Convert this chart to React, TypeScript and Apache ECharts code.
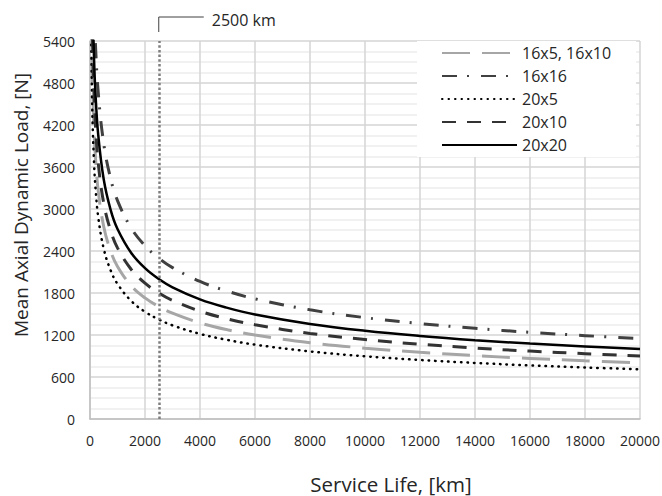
import React, { useEffect, useRef } from "react";
import * as echarts from "echarts";

// Service life [km]
const distances = [20, 30, 40, 50, 75, 100, 150, 200, 300, 500, 750, 1000, 1500, 2000, 2500, 3000, 4000, 5000, 6000, 8000, 10000, 12000, 14000, 16000, 18000, 20000];
// Mean axial dynamic load [N]
const load16x5 = [8031, 7016, 6374, 5917, 5169, 4697, 4103, 3728, 3256, 2747, 2399, 2180, 1904, 1730, 1606, 1512, 1373, 1275, 1200, 1090, 1012, 952, 905, 865, 832, 803];
const load16x16 = [11494, 10041, 9123, 8469, 7398, 6722, 5872, 5335, 4661, 3931, 3434, 3120, 2726, 2476, 2299, 2163, 1965, 1825, 1717, 1560, 1448, 1363, 1295, 1238, 1191, 1149];
const load20x5 = [7110, 6211, 5643, 5239, 4577, 4158, 3632, 3300, 2883, 2432, 2124, 1930, 1686, 1532, 1422, 1338, 1216, 1129, 1062, 965, 896, 843, 801, 766, 736, 711];
const load20x10 = [9007, 7869, 7149, 6637, 5798, 5268, 4602, 4181, 3652, 3081, 2691, 2445, 2136, 1941, 1801, 1695, 1540, 1430, 1346, 1223, 1135, 1068, 1014, 970, 933, 901];
const load20x20 = [10002, 8738, 7939, 7370, 6438, 5849, 5110, 4643, 4056, 3421, 2988, 2715, 2372, 2155, 2000, 1882, 1710, 1588, 1494, 1358, 1260, 1186, 1126, 1077, 1036, 1000];

const seriesNames = ["16x5, 16x10", "16x16", "20x5", "20x10", "20x20"];
const markerDistance = 2500;
const markerLabel = "2500 km";

const FONT = "'Open Sans', sans-serif";

const toPairs = (arr: number[]) => distances.map((d, i) => [d, arr[i]]);

export default function App() {
  const ref = useRef<HTMLDivElement>(null);

  useEffect(() => {
    if (!ref.current) return;
    const chart = echarts.init(ref.current, undefined, { renderer: "svg" });
    const common = {
      type: "line",
      symbol: "none",
      showSymbol: false,
      smooth: 0.4,
      clip: true,
    };
    chart.setOption({
      animation: false,
      backgroundColor: "#fff",
      textStyle: { fontFamily: FONT },
      grid: { left: 90, right: 22, top: 41, bottom: 77, containLabel: false, outerBoundsMode: "none" },
      xAxis: {
        type: "value",
        min: 0,
        max: 20000,
        interval: 2000,
        name: "Service Life, [km]",
        nameLocation: "middle",
        nameGap: 54,
        nameTextStyle: { fontSize: 20.5, color: "#262626", fontFamily: FONT, padding: [0, 0, 0, 52] },
        axisLine: { show: true, lineStyle: { color: "#bfbfbf", width: 1.5 } },
        axisTick: { show: false },
        axisLabel: { fontSize: 14, color: "#262626", margin: 14, fontFamily: FONT, formatter: (v: number) => String(v) },
        splitLine: { show: true, lineStyle: { color: "#d4d4d4", width: 1.5 } },
      },
      yAxis: {
        type: "value",
        min: 0,
        max: 5400,
        interval: 600,
        name: "Mean Axial Dynamic Load, [N]",
        nameLocation: "middle",
        nameGap: 60,
        nameTextStyle: { fontSize: 19, color: "#262626", fontFamily: FONT, padding: [0, 0, 0, 50] },
        axisLine: { show: true, lineStyle: { color: "#bfbfbf", width: 1.5 } },
        axisTick: { show: false },
        axisLabel: { fontSize: 14, color: "#262626", margin: 15, fontFamily: FONT, formatter: (v: number) => String(v) },
        splitLine: { show: true, lineStyle: { color: "#d4d4d4", width: 1.5 } },
        minorTick: { show: false, splitNumber: 4 },
        minorSplitLine: { show: true, lineStyle: { color: "#ececec", width: 1.5 } },
      },
      legend: {
        orient: "vertical",
        left: 417,
        top: 41,
        backgroundColor: "#fff",
        padding: [4, 25, 4, 24],
        itemWidth: 75,
        itemHeight: 14,
        itemGap: 7,
        itemStyle: { opacity: 0 },
        textStyle: { fontSize: 16, color: "#262626", fontFamily: FONT },
        data: seriesNames,
      },
      series: [
        {
          ...common,
          name: seriesNames[0],
          data: toPairs(load16x5),
          lineStyle: { color: "#a6a6a6", width: 3, type: [28, 12] },
          itemStyle: { color: "#a6a6a6" },
          markLine: {
            silent: true,
            symbol: "none",
            label: { show: false },
            lineStyle: { color: "#7f7f7f", width: 2.5, type: [2.5, 2.2] },
            data: [{ xAxis: markerDistance }],
          },
        },
        {
          ...common,
          name: seriesNames[1],
          data: toPairs(load16x16),
          lineStyle: { color: "#404040", width: 3, type: [15, 10, 2, 12] },
          itemStyle: { color: "#404040" },
        },
        {
          ...common,
          name: seriesNames[2],
          data: toPairs(load20x5),
          lineStyle: { color: "#000", width: 2.5, type: [0.5, 6], cap: "round" },
          itemStyle: { color: "#000" },
        },
        {
          ...common,
          name: seriesNames[3],
          data: toPairs(load20x10),
          lineStyle: { color: "#333", width: 3, type: [14, 11] },
          itemStyle: { color: "#333" },
        },
        {
          ...common,
          name: seriesNames[4],
          data: toPairs(load20x20),
          lineStyle: { color: "#000", width: 2.5, type: "solid" },
          itemStyle: { color: "#000" },
        },
      ],
    });

    const px = chart.convertToPixel({ xAxisIndex: 0 }, markerDistance) as number;
    const yTop = chart.convertToPixel({ yAxisIndex: 0 }, 5400) as number;
    chart.setOption({
      graphic: [
        {
          type: "polyline",
          shape: { points: [[px, yTop - 9], [px, yTop - 24], [px + 45, yTop - 24]] },
          style: { stroke: "#404040", lineWidth: 1, fill: null },
        },
        {
          type: "text",
          x: px + 53,
          y: yTop - 21,
          style: {
            text: markerLabel,
            fontSize: 16,
            fontFamily: FONT,
            fill: "#262626",
            verticalAlign: "middle",
          },
        },
      ],
    });

    return () => chart.dispose();
  }, []);

  return <div ref={ref} style={{ width: 662, height: 496, position: "absolute", left: 0, top: 0 }} />;
}
